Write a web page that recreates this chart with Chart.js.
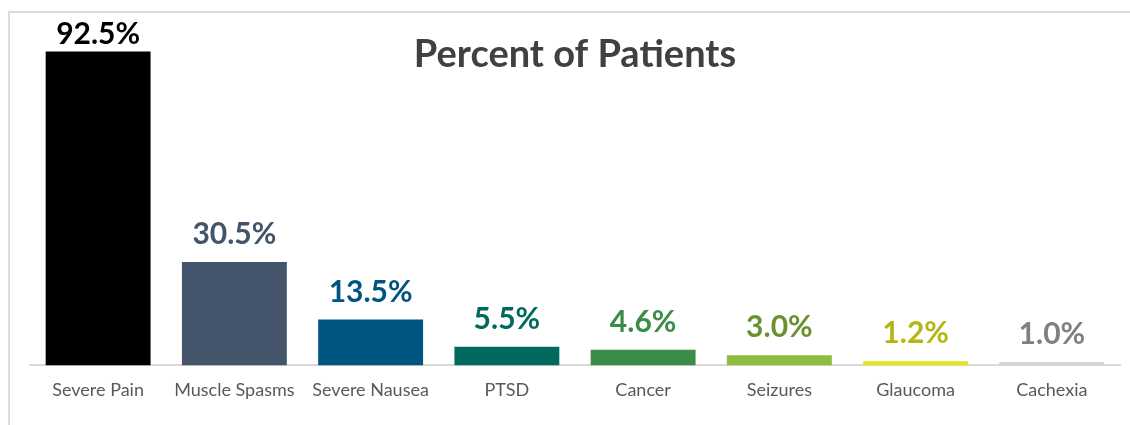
<!DOCTYPE html>
<html>
<head>
<meta charset="utf-8">
<script src="https://cdn.jsdelivr.net/npm/chart.js@4/dist/chart.umd.min.js"></script>
<style>
  html, body { margin: 0; padding: 0; background: #fff; overflow: hidden; }
  #frame { position: absolute; left: 8px; top: 11px; width: 1200px; height: 500px; border: 2px solid #dcdcdc; }
  #wrap { position: absolute; left: 0; top: 0; width: 1130px; height: 425px; }
</style>
</head>
<body>
<div id="frame"></div>
<div id="wrap"><canvas id="patients-chart" width="1130" height="425"></canvas></div>
<script>
var conditions = ["Severe Pain", "Muscle Spasms", "Severe Nausea", "PTSD", "Cancer", "Seizures", "Glaucoma", "Cachexia"];
var percentPatients = [92.5, 30.5, 13.5, 5.5, 4.6, 3.0, 1.2, 1.0];
var barColors = ["#000000", "#44546a", "#005581", "#006a5e", "#3a8c48", "#8fbc3f", "#e4e41e", "#d3d3d3"];
var labelColors = ["#000000", "#44546a", "#00547f", "#006a5e", "#3a8c48", "#6a9130", "#b5b514", "#808080"];
var chartTitle = "Percent of Patients";

// draws the value above each bar and the overlaid title
var valueLabels = {
    id: 'valueLabels',
    afterDatasetsDraw: function(chart) {
        var ctx = chart.ctx;
        var area = chart.chartArea;
        var meta = chart.getDatasetMeta(0);
        ctx.save();
        ctx.textAlign = 'center';
        ctx.textBaseline = 'alphabetic';
        ctx.font = 'bold 30px Lato';
        meta.data.forEach(function(bar, i) {
            var y = Math.max(bar.y - 18, area.top + 18);
            ctx.fillStyle = labelColors[i];
            ctx.fillText(percentPatients[i].toFixed(1) + '%', bar.x, y);
        });
        ctx.font = 'bold 38px Lato';
        ctx.fillStyle = '#404040';
        ctx.fillText(chartTitle, 575, 67);
        ctx.restore();
    }
};

var ctx = document.getElementById("patients-chart").getContext('2d');
var myChart = new Chart(ctx, {
    type: 'bar',
    data: {
        labels: conditions,
        datasets: [{
            data: percentPatients,
            backgroundColor: barColors,
            borderWidth: 0,
            barPercentage: 0.77,
            categoryPercentage: 1.0
        }]
    },
    options: {
        responsive: false,
        animation: false,
        layout: { padding: { left: 30, right: 10, top: 26, bottom: 18 } },
        plugins: {
            legend: { display: false },
            tooltip: { enabled: false }
        },
        scales: {
            x: {
                grid: { display: false },
                border: { display: true, color: '#d9d9d9', width: 2 },
                ticks: { color: '#595959', font: { family: 'Lato', size: 18 }, padding: 6, maxRotation: 0 }
            },
            y: {
                display: false,
                min: 0,
                max: 100
            }
        }
    },
    plugins: [valueLabels]
});
</script>
</body>
</html>
